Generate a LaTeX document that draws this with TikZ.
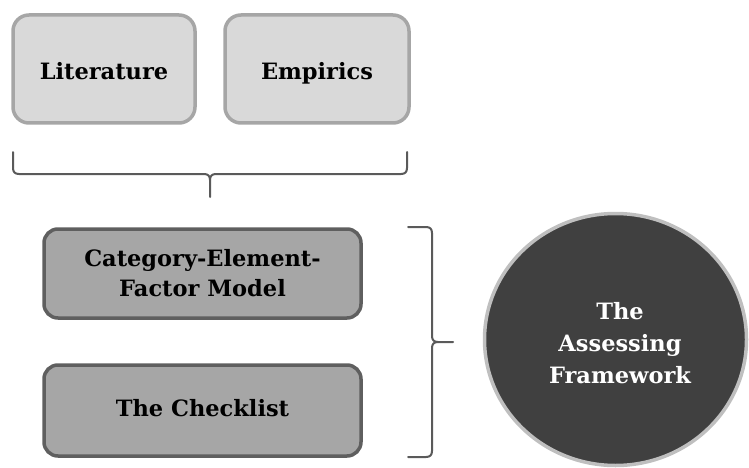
\documentclass[tikz,border=0pt]{standalone}
\usepackage{fontspec}
\setmainfont{DejaVu Serif}
\usetikzlibrary{shapes.geometric}
\definecolor{lightfill}{HTML}{D9D9D9}
\definecolor{lightedge}{HTML}{A6A6A6}
\definecolor{midfill}{HTML}{A6A6A6}
\definecolor{midedge}{HTML}{5F5F5F}
\definecolor{darkfill}{HTML}{404040}
\definecolor{darkedge}{HTML}{BFBFBF}
\definecolor{bracecol}{HTML}{5A5A5A}
\tikzset{
  boxfont/.style={font=\bfseries\fontsize{22.5}{30}\selectfont},
  oneline/.style={text height=16.4pt, text depth=0pt},
  lightbox/.style={draw=lightedge, fill=lightfill, line width=3.5pt, rounded corners=16pt,
    inner sep=0pt, boxfont, align=center, oneline},
  midbox/.style={draw=midedge, fill=midfill, line width=3.5pt, rounded corners=14pt,
    minimum width=317pt, inner sep=0pt, boxfont, align=center},
  hub/.style={ellipse, draw=darkedge, fill=darkfill, line width=3.5pt, inner sep=0pt,
    minimum width=262pt, minimum height=252pt},
  hubtext/.style={text=white, font=\bfseries\fontsize{22.5}{32}\selectfont, align=center},
  bracket/.style={draw=bracecol, line width=2pt, line join=round, line cap=round}
}
\begin{document}
\begin{tikzpicture}[x=1pt, y=-1pt]
  \useasboundingbox (0,0) rectangle (749,468);
  % source boxes
  \node[lightbox, minimum width=182pt, minimum height=108pt] (lit) at (104,69) {\raisebox{-2pt}{Literature}};
  \node[lightbox, minimum width=184pt, minimum height=108pt] (emp) at (317,69) {\raisebox{-2pt}{Empirics}};
  % brace gathering the two sources
  \draw[bracket] (13,152) -- (13,168) .. controls (13,172) and (15,174) .. (19,174)
    -- (204,174) .. controls (208,174) and (210,176) .. (210,180) -- (210,197);
  \draw[bracket] (210,180) .. controls (210,176) and (212,174) .. (216,174)
    -- (401,174) .. controls (405,174) and (407,172) .. (407,168) -- (407,152);
  % model boxes
  \node[midbox, minimum height=89pt] (cef) at (202.5,273.5) {Category-Element-\\Factor Model};
  \node[midbox, oneline, minimum height=91pt] (chk) at (202.5,410.5) {\raisebox{2pt}{The Checklist}};
  % brace gathering the two models
  \draw[bracket] (408,227) -- (426,227) .. controls (430,227) and (432,229) .. (432,233)
    -- (432,336) .. controls (432,340) and (434,342) .. (438,342) -- (453,342);
  \draw[bracket] (438,342) .. controls (434,342) and (432,344) .. (432,348)
    -- (432,451) .. controls (432,455) and (430,457) .. (426,457) -- (408,457);
  % resulting framework
  \node[hub] (fw) at (615.5,339.5) {};
  \node[hubtext] (fwlabel) at (620,343) {The\\Assessing\\Framework};
\end{tikzpicture}
\end{document}
